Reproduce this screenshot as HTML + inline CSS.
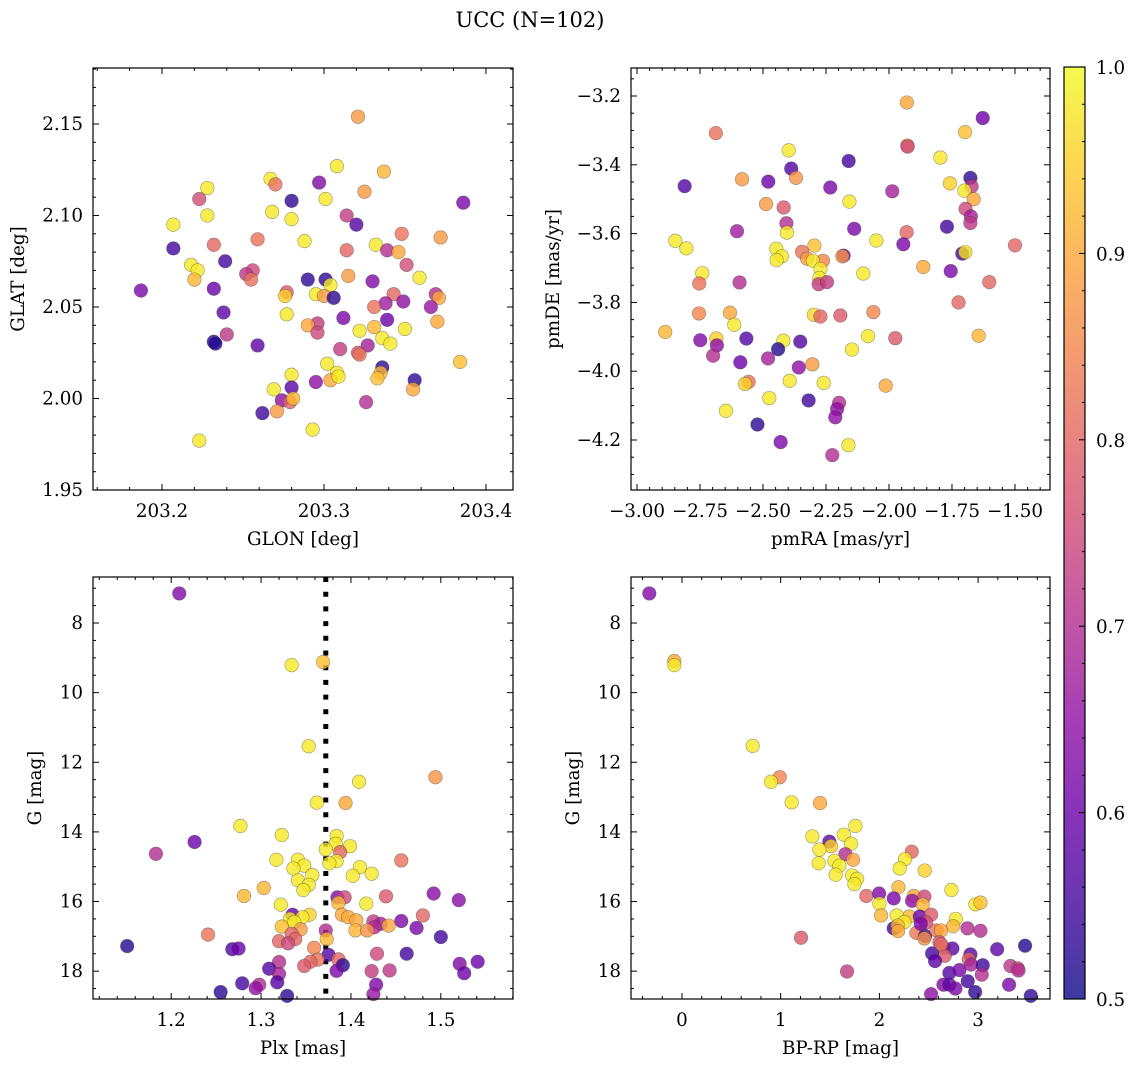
<!DOCTYPE html>
<html><head><meta charset="utf-8"><style>
body{margin:0;background:#fff}
svg text{font-family:"DejaVu Serif","Liberation Serif",serif;fill:#000}
</style></head><body>
<svg id="fig" width="1136" height="1067" xmlns="http://www.w3.org/2000/svg">
<text x="530" y="27" font-size="21" text-anchor="middle">UCC (N=102)</text>
</svg>
<script>
// ---- data: panel 1 (GLON/GLAT)
const glon=[203.321,203.308,203.337,203.267,203.270,203.297,203.228,203.325,203.223,203.280,203.301,203.386,203.228,203.268,203.280,203.314,203.320,203.207,203.288,203.259,203.232,203.207,203.348,203.372,203.332,203.339,203.346,203.314,203.351,203.359,203.218,203.222,203.220,203.239,203.256,203.252,203.255,203.290,203.301,203.304,203.315,203.187,203.232,203.277,203.276,203.295,203.300,203.306,203.330,203.343,203.349,203.338,203.331,203.369,203.371,203.366,203.238,203.277,203.312,203.339,203.296,203.290,203.296,203.370,203.350,203.322,203.331,203.336,203.341,203.240,203.232,203.233,203.259,203.310,203.327,203.321,203.322,203.384,203.302,203.336,203.335,203.333,203.308,203.304,203.309,203.356,203.355,203.280,203.280,203.295,203.269,203.274,203.279,203.281,203.262,203.271,203.326,203.293,203.223];
const glat=[2.154,2.127,2.124,2.120,2.117,2.118,2.115,2.113,2.109,2.108,2.109,2.107,2.100,2.102,2.098,2.100,2.095,2.095,2.086,2.087,2.084,2.082,2.090,2.088,2.084,2.081,2.080,2.081,2.073,2.066,2.073,2.070,2.065,2.075,2.070,2.068,2.065,2.065,2.065,2.062,2.067,2.059,2.060,2.058,2.056,2.057,2.056,2.055,2.064,2.057,2.053,2.052,2.050,2.057,2.055,2.050,2.047,2.046,2.044,2.043,2.041,2.040,2.036,2.042,2.038,2.037,2.039,2.033,2.030,2.035,2.031,2.030,2.029,2.027,2.029,2.025,2.024,2.020,2.019,2.017,2.014,2.011,2.014,2.010,2.012,2.010,2.005,2.013,2.006,2.009,2.005,1.999,1.998,2.000,1.992,1.993,1.998,1.983,1.977];
const prob1=[0.88,0.98,0.92,0.98,0.82,0.63,0.98,0.88,0.76,0.53,0.98,0.62,0.98,0.98,0.98,0.73,0.57,0.98,0.98,0.82,0.80,0.55,0.82,0.88,0.98,0.70,0.90,0.80,0.76,0.98,0.98,0.98,0.92,0.55,0.75,0.72,0.82,0.53,0.53,0.98,0.88,0.62,0.60,0.78,0.95,0.98,0.88,0.53,0.63,0.80,0.65,0.67,0.82,0.70,0.90,0.66,0.58,0.98,0.62,0.60,0.73,0.90,0.75,0.90,0.98,0.98,0.92,0.98,0.98,0.72,0.53,0.52,0.58,0.73,0.68,0.78,0.82,0.93,0.98,0.53,0.92,0.93,0.98,0.90,0.98,0.53,0.90,0.98,0.58,0.65,0.98,0.65,0.80,0.92,0.55,0.88,0.70,0.98,0.98];
// ---- panel 2 (pmRA/pmDE)
const pmra=[-1.929,-1.628,-2.687,-1.698,-1.927,-1.926,-2.398,-2.160,-1.796,-2.388,-2.369,-2.583,-2.479,-2.811,-2.233,-1.987,-1.677,-1.758,-1.672,-1.701,-1.664,-2.157,-2.488,-2.418,-1.696,-1.675,-1.677,-2.407,-2.405,-2.603,-2.138,-1.770,-1.930,-2.848,-2.804,-2.050,-1.943,-1.500,-2.447,-2.296,-2.345,-2.180,-2.185,-1.709,-1.697,-2.425,-2.446,-2.325,-2.262,-2.302,-2.272,-2.276,-2.279,-2.246,-2.741,-2.753,-2.593,-2.102,-1.864,-1.755,-1.602,-1.724,-2.754,-2.631,-2.614,-2.888,-2.298,-2.272,-2.193,-2.062,-1.644,-2.749,-2.685,-2.683,-2.698,-2.566,-2.419,-2.440,-2.352,-2.480,-2.590,-2.358,-2.304,-2.083,-2.147,-1.975,-2.013,-2.557,-2.571,-2.394,-2.259,-2.475,-2.647,-2.319,-2.198,-2.206,-2.213,-2.522,-2.430,-2.161,-2.225];
const pmde=[-3.219,-3.264,-3.308,-3.305,-3.344,-3.347,-3.358,-3.389,-3.379,-3.411,-3.438,-3.442,-3.449,-3.462,-3.466,-3.477,-3.438,-3.454,-3.463,-3.475,-3.500,-3.507,-3.514,-3.524,-3.528,-3.550,-3.569,-3.570,-3.597,-3.593,-3.586,-3.580,-3.596,-3.621,-3.643,-3.620,-3.631,-3.634,-3.644,-3.635,-3.653,-3.664,-3.666,-3.658,-3.654,-3.666,-3.677,-3.673,-3.679,-3.679,-3.703,-3.729,-3.747,-3.741,-3.715,-3.745,-3.742,-3.716,-3.697,-3.709,-3.741,-3.800,-3.832,-3.830,-3.865,-3.886,-3.836,-3.841,-3.838,-3.828,-3.897,-3.910,-3.905,-3.925,-3.955,-3.905,-3.911,-3.936,-3.914,-3.963,-3.974,-3.989,-3.980,-3.898,-3.937,-3.904,-4.042,-4.031,-4.037,-4.028,-4.034,-4.078,-4.115,-4.085,-4.092,-4.110,-4.134,-4.155,-4.206,-4.215,-4.244];
const prob2=[0.90,0.60,0.82,0.93,0.88,0.75,0.98,0.55,0.98,0.57,0.87,0.88,0.60,0.57,0.62,0.68,0.53,0.95,0.72,0.98,0.90,0.98,0.88,0.78,0.75,0.68,0.72,0.70,0.98,0.67,0.62,0.55,0.80,0.98,0.98,0.98,0.62,0.80,0.98,0.93,0.82,0.60,0.87,0.55,0.97,0.98,0.98,0.88,0.85,0.98,0.98,0.98,0.73,0.73,0.98,0.82,0.70,0.98,0.90,0.62,0.80,0.80,0.85,0.90,0.98,0.92,0.96,0.80,0.78,0.85,0.92,0.63,0.95,0.65,0.70,0.57,0.98,0.52,0.57,0.68,0.60,0.65,0.88,0.98,0.98,0.78,0.90,0.82,0.95,0.98,0.98,0.98,0.98,0.55,0.70,0.65,0.65,0.53,0.62,0.98,0.70];
// ---- panel 3 (Plx/G)
const plx=[1.209,1.334,1.369,1.353,1.409,1.494,1.362,1.394,1.277,1.323,1.226,1.183,1.384,1.383,1.399,1.372,1.388,1.384,1.376,1.317,1.341,1.348,1.336,1.357,1.341,1.353,1.347,1.410,1.402,1.423,1.456,1.303,1.281,1.322,1.385,1.393,1.386,1.417,1.439,1.492,1.520,1.335,1.354,1.346,1.332,1.337,1.390,1.397,1.406,1.480,1.456,1.425,1.433,1.426,1.442,1.323,1.344,1.405,1.418,1.473,1.241,1.334,1.338,1.372,1.373,1.320,1.330,1.500,1.151,1.268,1.275,1.359,1.375,1.429,1.462,1.386,1.363,1.355,1.348,1.320,1.309,1.391,1.384,1.423,1.443,1.521,1.541,1.526,1.320,1.279,1.318,1.298,1.294,1.255,1.329,1.428,1.425];
const gmag3=[7.15,9.21,9.12,11.54,12.56,12.43,13.16,13.17,13.83,14.09,14.29,14.63,14.12,14.34,14.41,14.50,14.58,14.84,14.90,14.80,14.80,14.97,15.05,15.24,15.39,15.52,15.67,15.01,15.26,15.20,14.82,15.61,15.84,16.09,15.88,15.88,16.04,16.06,15.85,15.77,15.96,16.38,16.38,16.45,16.50,16.59,16.38,16.45,16.54,16.40,16.56,16.57,16.64,16.74,16.69,16.72,16.80,16.83,16.83,16.76,16.95,16.93,17.08,16.83,17.08,17.14,17.20,17.02,17.28,17.37,17.35,17.33,17.53,17.50,17.50,17.66,17.67,17.73,17.85,17.74,17.93,17.83,17.99,18.00,17.98,17.79,17.73,18.06,18.08,18.35,18.32,18.39,18.49,18.60,18.71,18.39,18.66];
const prob3=[0.63,0.98,0.93,0.98,0.98,0.87,0.98,0.90,0.98,0.98,0.60,0.70,0.98,0.98,0.98,0.98,0.80,0.98,0.98,0.98,0.98,0.98,0.98,0.98,0.98,0.98,0.98,0.98,0.98,0.98,0.82,0.92,0.92,0.98,0.63,0.75,0.92,0.98,0.78,0.64,0.64,0.60,0.95,0.98,0.98,0.98,0.90,0.90,0.90,0.80,0.63,0.73,0.68,0.70,0.90,0.93,0.88,0.92,0.87,0.62,0.82,0.80,0.80,0.70,0.92,0.80,0.75,0.55,0.52,0.57,0.60,0.85,0.57,0.75,0.55,0.80,0.82,0.80,0.78,0.70,0.57,0.53,0.62,0.73,0.72,0.63,0.60,0.60,0.68,0.55,0.57,0.70,0.65,0.53,0.53,0.62,0.66];
const plxMean=[1.372];
// ---- panel 4 (BP-RP/G)
const bprp=[-0.331,-0.078,-0.078,0.716,0.990,0.902,1.111,1.399,1.757,1.321,1.639,1.493,1.510,1.392,1.713,1.655,1.733,1.544,1.385,1.595,1.557,1.723,1.774,1.747,2.328,2.260,2.206,2.459,2.193,1.868,1.997,2.145,2.000,2.017,2.348,2.456,2.331,2.439,2.730,2.973,3.024,2.304,2.409,2.524,2.176,2.253,2.473,2.145,2.186,2.189,2.774,2.747,2.892,3.024,2.375,2.463,2.456,2.578,2.625,2.608,2.649,2.740,2.662,2.534,2.564,3.193,3.476,2.922,2.905,2.929,3.047,1.206,1.672,2.709,2.811,3.037,3.328,3.402,3.409,2.895,2.649,2.709,2.770,2.970,3.314,3.534,2.524,2.419,2.625];
const gmag4=[7.15,9.09,9.21,11.53,12.43,12.56,13.15,13.17,13.83,14.13,14.08,14.28,14.41,14.51,14.34,14.64,14.80,14.83,14.90,14.97,15.23,15.25,15.35,15.50,14.57,14.78,15.05,15.11,15.59,15.84,15.77,15.91,16.06,16.40,15.84,15.86,15.98,16.09,15.67,16.08,16.03,16.43,16.43,16.38,16.40,16.59,16.60,16.77,16.69,16.85,16.50,16.71,16.77,16.84,16.90,16.99,17.06,16.83,16.83,17.17,17.32,17.35,17.56,17.49,17.71,17.37,17.27,17.52,17.66,17.81,17.83,17.04,18.01,18.05,17.97,18.10,17.85,17.92,17.98,18.29,18.39,18.39,18.50,18.60,18.39,18.71,18.66,16.64,17.23];
const prob4=[0.63,0.90,0.98,0.98,0.85,0.98,0.98,0.90,0.98,0.98,0.98,0.58,0.95,0.98,0.98,0.70,0.90,0.98,0.98,0.98,0.98,0.98,0.98,0.98,0.80,0.98,0.98,0.95,0.92,0.80,0.63,0.62,0.98,0.92,0.90,0.75,0.65,0.92,0.98,0.98,0.93,0.92,0.60,0.78,0.98,0.98,0.76,0.55,0.92,0.90,0.98,0.92,0.70,0.70,0.83,0.55,0.87,0.82,0.90,0.78,0.85,0.58,0.78,0.55,0.58,0.58,0.52,0.58,0.80,0.68,0.55,0.78,0.73,0.57,0.62,0.70,0.72,0.75,0.70,0.55,0.63,0.58,0.62,0.53,0.62,0.53,0.65,0.62,0.80];
// tick labels
const ticks1x=[203.2,203.3,203.4], ticks1y=[1.95,2.00,2.05,2.10,2.15];
const ticks2x=[-3.00,-2.75,-2.50,-2.25,-2.00,-1.75,-1.50], ticks2y=[-4.2,-4.0,-3.8,-3.6,-3.4,-3.2];
const ticks3x=[1.2,1.3,1.4,1.5], ticksG=[8,10,12,14,16,18];
const ticks4x=[0,1,2,3], ticksC=[0.5,0.6,0.7,0.8,0.9,1.0];

const NS='http://www.w3.org/2000/svg';
const svg=document.getElementById('fig');
const FS=18.3;
function mk(tag,attrs,parent){const e=document.createElementNS(NS,tag);for(const k in attrs)e.setAttribute(k,attrs[k]);(parent||svg).appendChild(e);return e;}
const plasmaStops=['#0d0887','#41049d','#6a00a8','#8f0da4','#b12a90','#cc4778','#e16462','#f2844b','#fca636','#fcce25','#f0f921'];
function hex(h){return [parseInt(h.slice(1,3),16),parseInt(h.slice(3,5),16),parseInt(h.slice(5,7),16)];}
function plasma(t){t=Math.max(0,Math.min(1,t));const f=t*10,i=Math.min(9,Math.floor(f)),u=f-i;const a=hex(plasmaStops[i]),b=hex(plasmaStops[i+1]);return 'rgb('+a.map((v,k)=>Math.round(v+(b[k]-v)*u)).join(',')+')';}
function cmap(p){return plasma((p-0.5)/0.5);}

function panel(o){
  const g=mk('g',{});
  
  
  const sx=v=>o.L+(v-o.x0)/(o.x1-o.x0)*(o.R-o.L);
  const sy=v=>o.B-(v-o.y0)/(o.y1-o.y0)*(o.B-o.T);
  if(o.vline!==undefined){const l=mk('line',{x1:sx(o.vline),x2:sx(o.vline),y1:o.T,y2:o.B,stroke:'#000','stroke-width':5,'stroke-dasharray':'5,9.7'},g);
    
    }
  for(let i=0;i<o.xs.length;i++){
    const c=mk('circle',{cx:sx(o.xs[i]),cy:sy(o.ys[i]),r:6.8,fill:cmap(o.cs[i]),'fill-opacity':0.8,stroke:'rgba(60,60,60,0.5)','stroke-width':0.6},g);
    
    
  }
  const fr=mk('rect',{x:o.L,y:o.T,width:o.R-o.L,height:o.B-o.T,fill:'none',stroke:'#000','stroke-width':1.2},g);
  
  
  const eps=1e-9;
  for(let v=Math.ceil(o.x0/o.mx-eps)*o.mx; v<=o.x1+eps; v+=o.mx){const X=sx(v);const maj=o.xt.some(t=>Math.abs(t-v)<o.mx/3);const len=maj?6:3;
    mk('line',{x1:X,x2:X,y1:o.B,y2:o.B-len,stroke:'#000','stroke-width':1},g);mk('line',{x1:X,x2:X,y1:o.T,y2:o.T+len,stroke:'#000','stroke-width':1},g);}
  for(let v=Math.ceil(Math.min(o.y0,o.y1)/o.my-eps)*o.my; v<=Math.max(o.y0,o.y1)+eps; v+=o.my){const Y=sy(v);const maj=o.yt.some(t=>Math.abs(t-v)<o.my/3);const len=maj?6:3;
    mk('line',{x1:o.L,x2:o.L+len,y1:Y,y2:Y,stroke:'#000','stroke-width':1},g);mk('line',{x1:o.R,x2:o.R-len,y1:Y,y2:Y,stroke:'#000','stroke-width':1},g);}
  o.xt.forEach(t=>{const tx=mk('text',{x:sx(t),y:o.B+27,'font-size':FS,'text-anchor':'middle'},g);tx.textContent=o.fx(t);
    
    });
  o.yt.forEach(t=>{const tx=mk('text',{x:o.L-10,y:sy(t)+6,'font-size':FS,'text-anchor':'end'},g);tx.textContent=o.fy(t);
    
    });
  const xl=mk('text',{x:(o.L+o.R)/2,y:o.B+55,'font-size':FS,'text-anchor':'middle'},g);xl.textContent=o.xlab;
  
  
  const yl=mk('text',{x:0,y:0,'font-size':FS,'text-anchor':'middle',transform:`translate(${o.ylx},${(o.T+o.B)/2}) rotate(-90)`},g);yl.textContent=o.ylab;
  
  
}
const mn=t=>(t<0?'\u2212':'')+Math.abs(t).toFixed(2);
panel({name:'glon-glat-panel',L:93,R:513,T:68,B:490,x0:203.1574,x1:203.4167,y0:1.95,y1:2.1806,xs:glon,ys:glat,cs:prob1,xt:ticks1x,yt:ticks1y,mx:0.02,my:0.01,fx:t=>t.toFixed(1),fy:t=>t.toFixed(2),xlab:'GLON [deg]',ylab:'GLAT [deg]',ylx:24});
panel({name:'pm-panel',L:631,R:1050,T:68,B:490,x0:-3.0238,x1:-1.361,y0:-4.3453,y1:-3.1186,xs:pmra,ys:pmde,cs:prob2,xt:ticks2x,yt:ticks2y,mx:0.05,my:0.05,fx:mn,fy:t=>(t<0?'\u2212':'')+Math.abs(t).toFixed(1),xlab:'pmRA [mas/yr]',ylab:'pmDE [mas/yr]',ylx:559});
panel({name:'plx-g-panel',L:93,R:513,T:577,B:999,x0:1.113,x1:1.5803,y0:18.80,y1:6.678,xs:plx,ys:gmag3,cs:prob3,xt:ticks3x,yt:ticksG,mx:0.02,my:0.5,fx:t=>t.toFixed(1),fy:t=>String(t),xlab:'Plx [mas]',ylab:'G [mag]',ylx:41,vline:plxMean[0]});
panel({name:'cmd-panel',L:631,R:1050,T:577,B:999,x0:-0.5167,x1:3.7285,y0:18.80,y1:6.678,xs:bprp,ys:gmag4,cs:prob4,xt:ticks4x,yt:ticksG,mx:0.2,my:0.5,fx:t=>String(t),fy:t=>String(t),xlab:'BP-RP [mag]',ylab:'G [mag]',ylx:579});
// colorbar
const cb=mk('g',{});


const defs=mk('defs',{},cb);const lg=mk('linearGradient',{id:'cbg',x1:0,y1:1,x2:0,y2:0},defs);
for(let k=0;k<=20;k++){mk('stop',{offset:k/20,'stop-color':cmap(0.5+k/40)},lg);}
const cT=67,cB=999,cL=1064,cR=1085;
mk('rect',{x:cL,y:cT,width:cR-cL,height:cB-cT,fill:'url(#cbg)','fill-opacity':0.8},cb);
mk('rect',{x:cL,y:cT,width:cR-cL,height:cB-cT,fill:'none',stroke:'#000','stroke-width':1.2},cb);
const cy=v=>cB-(v-0.5)/0.5*(cB-cT);
for(let v=0.5;v<=1.0001;v+=0.02){const Y=cy(v);const maj=ticksC.some(t=>Math.abs(t-v)<0.005);mk('line',{x1:cR,x2:cR-(maj?6:3),y1:Y,y2:Y,stroke:'#000','stroke-width':1},cb);}
ticksC.forEach(t=>{const tx=mk('text',{x:1096,y:cy(t)+7,'font-size':FS},cb);tx.textContent=t.toFixed(1);
  
  });
</script>
</body></html>
